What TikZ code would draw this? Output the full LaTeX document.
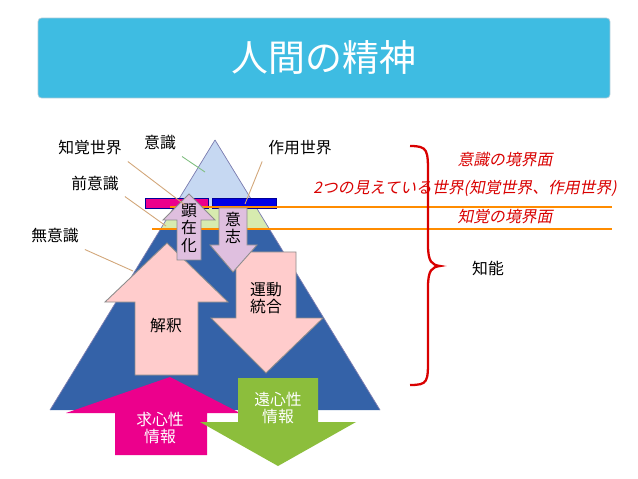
\documentclass[tikz,border=0pt]{standalone}
\usepackage{fontspec}
\setmainfont{Noto Sans CJK JP}
\newfontfamily\slantfont[FakeSlant=0.2]{Noto Sans CJK JP}
\usetikzlibrary{shapes.arrows}
\definecolor{leafgreen}{RGB}{140,190,60}
\definecolor{pyrblue}{RGB}{52,98,168}
\definecolor{topblue}{RGB}{198,216,242}
\definecolor{bandgreen}{RGB}{215,235,175}
\definecolor{titlecyan}{RGB}{62,188,226}
\tikzset{
  lbl/.style={font=\fontsize{9}{10}\selectfont},
  red lbl/.style={font=\fontsize{9}{10}\selectfont\slantfont, text=red!85!black},
  leader/.style={draw=brown!70, line width=.5pt},
  arr/.style={draw=black!45, line width=.5pt}
}
\begin{document}
\begin{tikzpicture}[x=0.02cm,y=-0.02cm]
		\useasboundingbox (0,0) rectangle (638,479);
		\fill[white] (0,0) rectangle (638,479);
		% title
		\node[draw=cyan!60!black!40, fill=titlecyan, rounded corners=2pt, minimum width=11.44cm, minimum height=1.6cm] (title) at (324,58) {};
		\node[text=white, font=\fontsize{21}{24}\selectfont] at (title) {人間の精神};
		% pyramid
		\fill[pyrblue] (215,140) -- (380,410) -- (50,410) -- cycle;
		\fill[bandgreen] (174,207) -- (256,207) -- (270,230) -- (160,230) -- cycle;
		\fill[topblue] (215,140) -- (256,207) -- (174,207) -- cycle;
		\draw[blue!40!black!50] (215,140) -- (380,410);
		\draw[blue!40!black!50] (215,140) -- (50,410);
		% bars
		\node[draw=blue!60!black, fill=magenta, minimum width=1.26cm, minimum height=0.2cm, inner sep=0pt] (bar1) at (176.5,203) {};
		\node[draw=blue!60!black, fill=blue!90!black, minimum width=1.28cm, minimum height=0.2cm, inner sep=0pt] (bar2) at (244,203) {};
		% boundary lines
		\draw[orange!90!yellow, line width=1.2pt] (170,207) -- (612,207);
		\draw[orange!90!yellow, line width=1.2pt] (152,229) -- (612,229);
		% arrows
		\fill[magenta] (170,377) -- (240,413) -- (207,413) -- (207,455) -- (115,455) -- (115,413) -- (66,413) -- cycle;
		\fill[leafgreen] (238,378) -- (318,378) -- (318,422) -- (356,422) -- (278,466) -- (200,422) -- (238,422) -- cycle;
		\filldraw[arr, fill=pink!80] (167,243) -- (228,302) -- (198,302) -- (198,375) -- (135,375) -- (135,302) -- (105,302) -- cycle;
		\filldraw[arr, fill=pink!80] (236,252) -- (296,252) -- (296,318) -- (323,318) -- (266,373) -- (211,318) -- (236,318) -- cycle;
		\filldraw[arr, fill=violet!25] (189,194) -- (215,220) -- (201,220) -- (201,260) -- (177,260) -- (177,220) -- (163,220) -- cycle;
		\filldraw[arr, fill=violet!25] (219,208) -- (247,208) -- (247,245) -- (257,245) -- (233,272) -- (210,245) -- (219,245) -- cycle;
		% arrow texts
		\node[lbl, align=center, inner sep=0pt] (kenzai) at (189,228) {顕\\在\\化};
		\node[lbl, align=center, inner sep=0pt] (ishi) at (233,228) {意\\志};
		\node[lbl] (kaishaku) at (166,325) {解釈};
		\node[lbl, align=center] (undo) at (266,298) {運動\\統合};
		\node[lbl, align=center, text=white] (kyushin) at (160,428) {求心性\\情報};
		\node[lbl, align=center, text=white] (enshin) at (278,408) {遠心性\\情報};
		% labels
		\node[lbl] (ishiki) at (160,143) {意識};
		\node[lbl] (chikaku) at (90,148) {知覚世界};
		\node[lbl] (sayo) at (300,148) {作用世界};
		\node[lbl] (zenishiki) at (95,183) {前意識};
		\node[lbl] (muishiki) at (55,236) {無意識};
		\coordinate (p1) at (205,172);
		\coordinate (p2) at (185,205);
		\coordinate (p3) at (245,204);
		\coordinate (p4) at (166,226);
		\coordinate (p5) at (133,271);
		\draw[leader, draw=green!50!black!50] (ishiki.south east) -- (p1);
		\draw[leader] (chikaku.south east) -- (p2);
		\draw[leader] (sayo.south west) -- (p3);
		\draw[leader] (zenishiki.south east) -- (p4);
		\draw[leader] (muishiki.south east) -- (p5);
		% right brace
		\draw[red!85!black, line width=1.3pt] (410,146) .. controls (428,146) and (428,150) .. (428,175) -- (428,245) .. controls (428,262) and (432,265) .. (440,266) .. controls (432,267) and (428,270) .. (428,287) -- (428,358) .. controls (428,382) and (428,385) .. (410,385);
		\node[red lbl] (kyokai1) at (505,160) {意識の境界面};
		\node[red lbl] (sekai2) at (465,188) {2つの見えている世界(知覚世界、作用世界)};
		\node[red lbl] (kyokai2) at (505,217) {知覚の境界面};
		\node[lbl] (chino) at (488,268) {知能};
\end{tikzpicture}
\end{document}
